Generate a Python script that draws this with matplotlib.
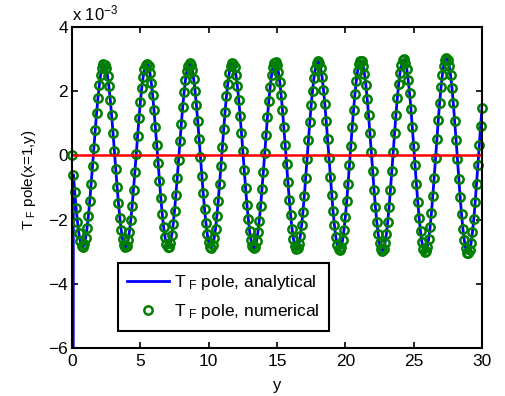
import matplotlib
matplotlib.use("Agg")
import matplotlib.pyplot as plt
import numpy as np

plt.rcParams["font.family"] = ["Liberation Sans", "DejaVu Sans"]
plt.rcParams["mathtext.fontset"] = "custom"
plt.rcParams["mathtext.rm"] = "Liberation Sans"
plt.rcParams["mathtext.it"] = "Liberation Sans"
plt.rcParams["mathtext.default"] = "regular"

# T_F pole(x=1, y), in units of 1e-3, sampled every 0.1 in y from 0 to 30
T_NUM = [
    0.00, -0.60, -1.14, -1.64, -2.07, -2.42, -2.67, -2.82, -2.85, -2.76,
    -2.57, -2.27, -1.88, -1.42, -0.90, -0.34, 0.23, 0.79, 1.32, 1.80,
    2.20, 2.52, 2.73, 2.84, 2.83, 2.71, 2.48, 2.15, 1.73, 1.25,
    0.71, 0.15, -0.42, -0.98, -1.49, -1.95, -2.32, -2.61, -2.79, -2.85,
    -2.81, -2.65, -2.38, -2.02, -1.58, -1.07, -0.52, 0.05, 0.61, 1.16,
    1.66, 2.09, 2.43, 2.68, 2.83, 2.85, 2.77, 2.57, 2.27, 1.88,
    1.41, 0.89, 0.33, -0.24, -0.80, -1.34, -1.81, -2.22, -2.53, -2.75,
    -2.85, -2.84, -2.72, -2.48, -2.15, -1.73, -1.24, -0.70, -0.14, 0.44,
    0.99, 1.51, 1.96, 2.34, 2.62, 2.80, 2.87, 2.82, 2.66, 2.39,
    2.02, 1.58, 1.07, 0.51, -0.06, -0.63, -1.18, -1.68, -2.11, -2.46,
    -2.70, -2.84, -2.87, -2.78, -2.58, -2.28, -1.88, -1.41, -0.88, -0.32,
    0.26, 0.82, 1.36, 1.84, 2.24, 2.56, 2.77, 2.88, 2.86, 2.74,
    2.50, 2.16, 1.74, 1.24, 0.70, 0.13, -0.45, -1.01, -1.53, -1.99,
    -2.37, -2.65, -2.83, -2.89, -2.84, -2.68, -2.40, -2.03, -1.58, -1.06,
    -0.51, 0.07, 0.65, 1.20, 1.70, 2.14, 2.49, 2.74, 2.88, 2.90,
    2.81, 2.60, 2.30, 1.89, 1.42, 0.88, 0.31, -0.27, -0.84, -1.38,
    -1.87, -2.28, -2.59, -2.81, -2.91, -2.89, -2.76, -2.52, -2.18, -1.75,
    -1.25, -0.69, -0.11, 0.47, 1.04, 1.56, 2.02, 2.41, 2.69, 2.87,
    2.93, 2.88, 2.71, 2.43, 2.05, 1.59, 1.07, 0.50, -0.09, -0.67,
    -1.23, -1.74, -2.17, -2.53, -2.78, -2.92, -2.94, -2.84, -2.64, -2.32,
    -1.91, -1.43, -0.88, -0.30, 0.29, 0.87, 1.41, 1.90, 2.32, 2.64,
    2.85, 2.95, 2.94, 2.80, 2.55, 2.20, 1.76, 1.25, 0.69, 0.10,
    -0.49, -1.07, -1.60, -2.07, -2.45, -2.74, -2.92, -2.98, -2.92, -2.74,
    -2.46, -2.07, -1.61, -1.07, -0.50, 0.10, 0.69, 1.26, 1.78, 2.22,
    2.58, 2.83, 2.97, 2.99, 2.89, 2.68, 2.35, 1.94, 1.44, 0.89,
    0.30, -0.31, -0.90, -1.45, -1.95, -2.37, -2.69, -2.91, -3.01, -2.99,
    -2.85, -2.59, -2.24, -1.79, -1.26, -0.69, -0.09, 0.51, 1.10, 1.64,
    2.12, 2.51, 2.80, 2.98, 3.04, 2.98, 2.79, 2.50, 2.11, 1.63,
    1.08, 0.49, -0.12, -0.72, -1.30, -1.82, -2.28, -2.64, -2.89, -3.03,
    -3.05, -2.95, -2.73, -2.39, -1.97, -1.46, -0.89, -0.29, 0.33, 0.93,
    1.49,
]
# analytical solution has a pole at y=0 (runs off the bottom of the axes)
T_ANA_POLE = -60.0
T_ANA = [T_ANA_POLE] + T_NUM[1:]
Y = np.linspace(0, 30, len(T_NUM))

X_TICKS = [0, 5, 10, 15, 20, 25, 30]
Y_TICKS = [-6, -4, -2, 0, 2, 4]

BLUE = "#0000FF"
GREEN = "#007F00"
RED = "#FF0000"

fig = plt.figure(figsize=(5.06, 3.96), dpi=100)
ax = fig.add_axes([0.1423, 0.1212, 0.8103, 0.8106])

ax.plot(Y, T_ANA, color=BLUE, lw=2, label=r"T$_{\ F}$ pole, analytical", zorder=2)
ax.plot(Y, T_NUM, "o", ms=6, mfc="none", mec=GREEN, mew=1.8, clip_on=False,
        label=r"T$_{\ F}$ pole, numerical", zorder=3)
ax.plot([Y[0], Y[-1]], [0, 0], color=RED, lw=1.8, zorder=4)

ax.set_xlim(0, 30)
ax.set_ylim(-6, 4)
ax.set_xticks(X_TICKS)
ax.set_yticks(Y_TICKS)
ax.tick_params(direction="in", top=True, right=True, length=4, width=1.2,
               labelsize=12.5, colors="black")
ax.tick_params(axis="x", pad=4)
ax.tick_params(axis="y", pad=3)
for s in ax.spines.values():
    s.set_linewidth(1.5)
    s.set_zorder(5)

ax.set_xlabel("y", fontsize=12)
ax.xaxis.set_label_coords(0.5, -0.095)
ax.set_ylabel(r"T$_{\ F}$ pole(x=1,y)", fontsize=11)
ax.yaxis.set_label_coords(-0.083, 0.525)
ax.text(0, 1.01, r"x 10$^{-3}$", transform=ax.transAxes, fontsize=12,
        ha="left", va="bottom")

leg = ax.legend(loc="lower left", bbox_to_anchor=(0.112, 0.053), fontsize=12.5,
                fancybox=False, framealpha=1, edgecolor="black",
                handlelength=2.4, handletextpad=0.3, borderpad=0.55,
                labelspacing=0.6, borderaxespad=0)
leg.get_frame().set_linewidth(1.5)
leg.set_zorder(6)

fig.savefig("out.png", dpi=100, facecolor="white")
